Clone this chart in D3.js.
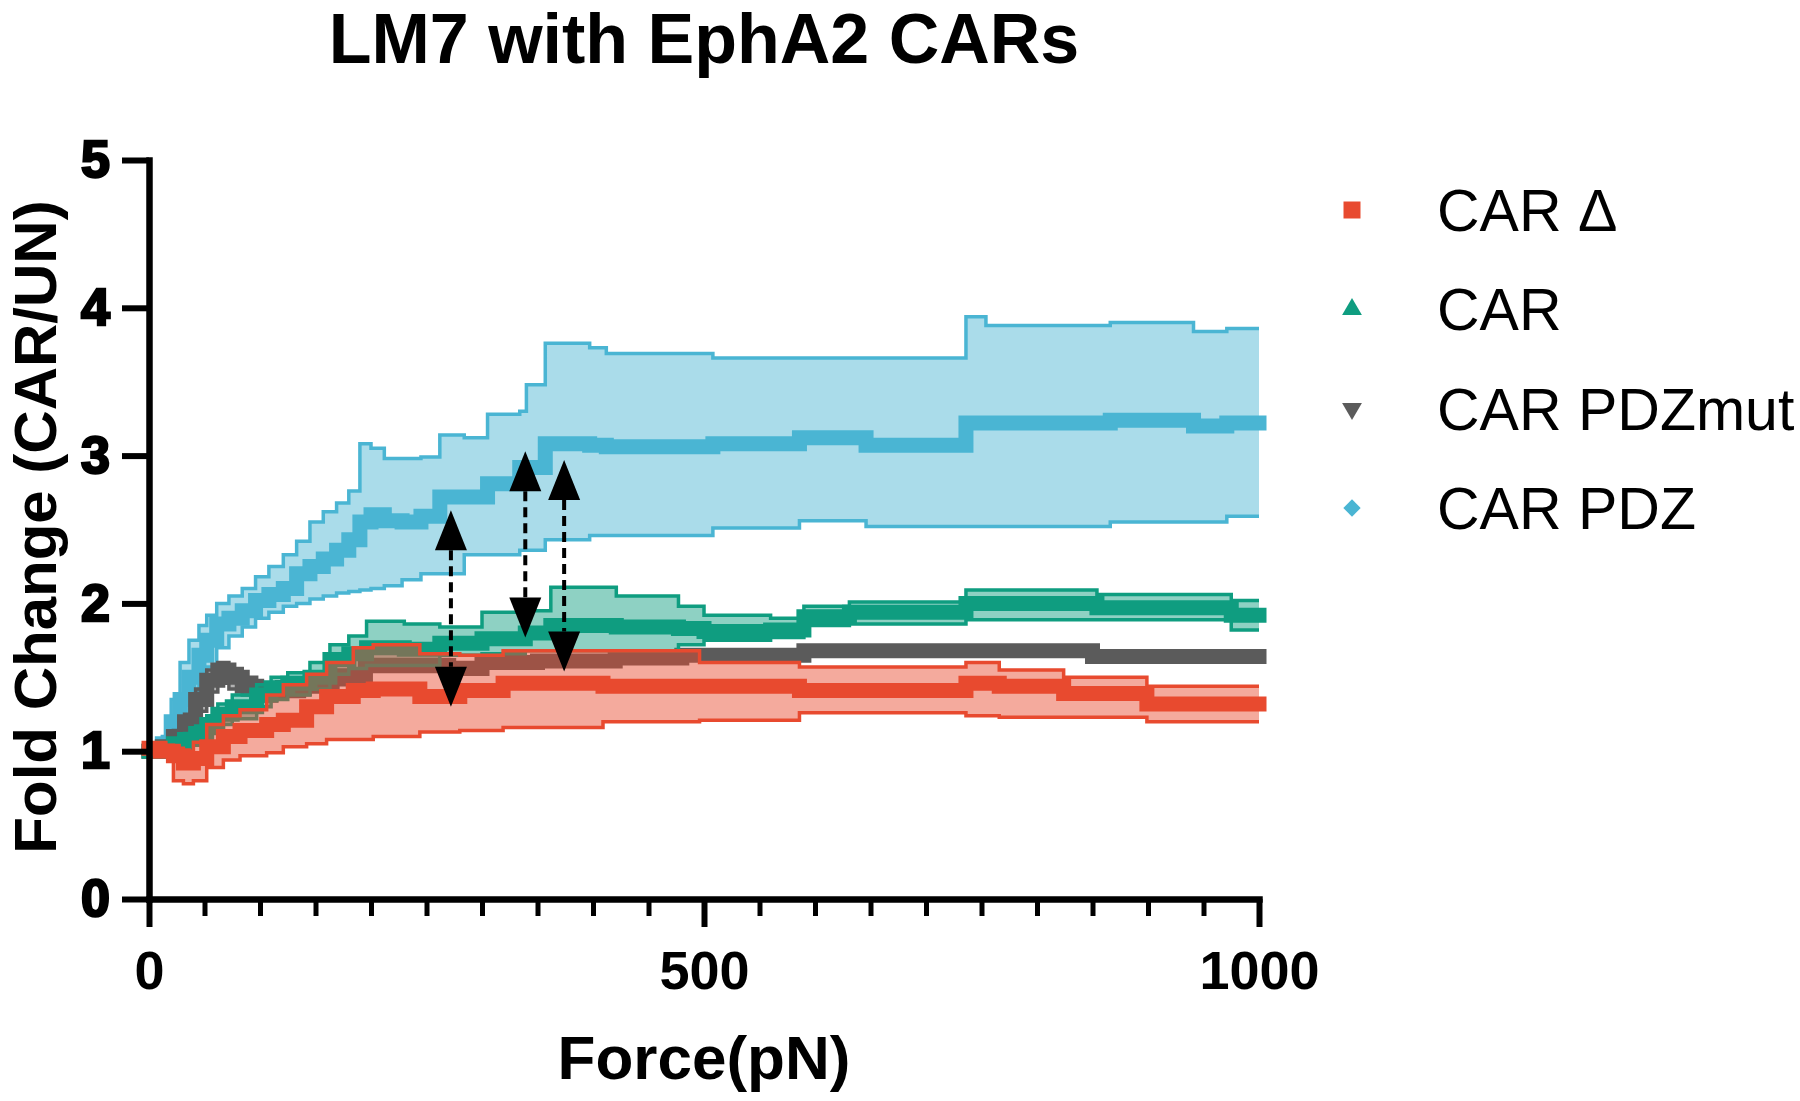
<!DOCTYPE html>
<html>
<head>
<meta charset="utf-8">
<script src="https://cdn.jsdelivr.net/npm/d3@7/dist/d3.min.js"></script>
<style>
  body { margin: 0; background: #fff; }
  text { font-family: "Liberation Sans", Arial, sans-serif; }
</style>
</head>
<body>
<svg id="chart" width="1800" height="1101"></svg>
<script>
// ---- data (force in pN, fold change CAR/UN) ----
const seriesNames = ['CAR Δ', 'CAR', 'CAR PDZmut', 'CAR PDZ'];

// CAR PDZ (blue)
const pdzForce = [0, 12, 20, 28, 36, 45, 52, 61, 72, 84, 96, 108, 121, 133, 145, 157, 169, 180, 190, 200,
  212, 228, 245, 262, 284, 305, 334, 340, 357, 397, 412, 508, 586, 646, 736, 754, 866, 941, 971, 1000];
const pdzMean = [1.0, 1.05, 1.2, 1.35, 1.5, 1.65, 1.75, 1.86, 1.9, 1.95, 2.02, 2.06, 2.1, 2.2, 2.25, 2.3, 2.36, 2.43, 2.55, 2.6,
  2.56, 2.55, 2.59, 2.72, 2.72, 2.81, 2.92, 2.92, 3.08, 3.07, 3.06, 3.08, 3.12, 3.07, 3.22, 3.22, 3.24, 3.2, 3.22, 3.22];
const pdzHigh = [1.0, 1.1, 1.35, 1.6, 1.75, 1.85, 1.92, 2.0, 2.05, 2.1, 2.18, 2.25, 2.33, 2.42, 2.55, 2.62, 2.68, 2.76, 3.08, 3.05,
  2.98, 2.98, 2.99, 3.14, 3.12, 3.28, 3.3, 3.48, 3.76, 3.73, 3.69, 3.66, 3.66, 3.66, 3.94, 3.88, 3.9, 3.84, 3.86, 3.86];
const pdzLow = [1.0, 0.98, 1.08, 1.2, 1.33, 1.48, 1.57, 1.7, 1.78, 1.84, 1.9, 1.94, 1.98, 2.0, 2.03, 2.05, 2.07, 2.08, 2.09, 2.1,
  2.12, 2.16, 2.2, 2.2, 2.33, 2.33, 2.36, 2.36, 2.43, 2.46, 2.46, 2.51, 2.56, 2.52, 2.52, 2.52, 2.55, 2.55, 2.59, 2.59];

// CAR (teal)
const carForce = [0, 12, 22, 32, 42, 52, 62, 75, 97, 110, 125, 145, 163, 180, 196, 230, 262, 300, 339, 362,
  421, 477, 500, 560, 590, 631, 736, 854, 975, 1000];
const carMean = [1.0, 1.02, 1.05, 1.08, 1.12, 1.18, 1.25, 1.3, 1.38, 1.43, 1.46, 1.5, 1.62, 1.66, 1.7, 1.69, 1.73, 1.76, 1.8, 1.85,
  1.84, 1.83, 1.81, 1.82, 1.91, 1.94, 2.0, 1.97, 1.92, 1.92];
const carHigh = [1.0, 1.04, 1.08, 1.12, 1.17, 1.24, 1.32, 1.38, 1.45, 1.5, 1.53, 1.6, 1.72, 1.78, 1.88, 1.86, 1.84, 1.94, 1.95, 2.11,
  2.05, 1.98, 1.92, 1.9, 1.98, 2.01, 2.09, 2.06, 2.02, 2.02];
const carLow = [1.0, 1.0, 1.02, 1.04, 1.07, 1.12, 1.18, 1.22, 1.3, 1.35, 1.38, 1.42, 1.52, 1.56, 1.58, 1.58, 1.65, 1.66, 1.68, 1.68,
  1.68, 1.72, 1.75, 1.77, 1.85, 1.86, 1.89, 1.89, 1.82, 1.82];

// CAR PDZmut (grey)
const mutForce = [0, 12, 22, 32, 42, 52, 62, 72, 84, 97, 115, 140, 165, 195, 230, 270, 300, 350, 420, 480, 590, 850, 1000];
const mutMean = [1.0, 1.03, 1.1, 1.2, 1.35, 1.48, 1.55, 1.5, 1.44, 1.39, 1.42, 1.45, 1.5, 1.58, 1.58, 1.56, 1.6, 1.61, 1.63, 1.65, 1.68, 1.64, 1.64];
const mutHigh = [1.0, 1.05, 1.14, 1.25, 1.42, 1.55, 1.6, 1.56, 1.5, 1.45, 1.47, 1.5, 1.55, 1.62, 1.62, 1.6, 1.63, 1.63, 1.65, 1.66, 1.69, 1.65, 1.65];
const mutLow = [1.0, 1.0, 1.06, 1.14, 1.27, 1.4, 1.46, 1.42, 1.38, 1.34, 1.37, 1.4, 1.45, 1.54, 1.54, 1.52, 1.57, 1.59, 1.61, 1.64, 1.67, 1.63, 1.63];

// CAR Δ (red)
const delForce = [0, 10, 22, 31, 40, 52, 67, 82, 106, 121, 142, 160, 184, 202, 244, 280, 319, 409, 496, 586, 736, 766, 824, 899, 1000];
const delMean = [1.02, 1.0, 0.97, 0.92, 0.95, 1.03, 1.1, 1.14, 1.18, 1.21, 1.3, 1.37, 1.41, 1.42, 1.37, 1.41, 1.46, 1.44, 1.44, 1.41, 1.46, 1.44, 1.39, 1.32, 1.32];
const delHigh = [1.05, 1.04, 1.02, 1.0, 1.06, 1.18, 1.24, 1.28, 1.38, 1.45, 1.52, 1.6, 1.7, 1.72, 1.66, 1.65, 1.68, 1.68, 1.6, 1.57, 1.6, 1.55, 1.5, 1.44, 1.44];
const delLow = [1.0, 0.97, 0.8, 0.78, 0.8, 0.89, 0.94, 0.97, 0.99, 1.03, 1.05, 1.08, 1.08, 1.1, 1.13, 1.14, 1.16, 1.2, 1.21, 1.26, 1.24, 1.23, 1.23, 1.2, 1.2];

// dashed double arrows (annotation)
const arrowForce = [272, 339, 374];
const arrowTop = [2.63, 3.03, 2.97];
const arrowBottom = [1.3, 1.77, 1.54];

const xMajorTicks = [0, 500, 1000];
const yTicks = [0, 1, 2, 3, 4, 5];

// ---- setup ----
const svg = d3.select('#chart');
const x = d3.scaleLinear().domain([0, 1000]).range([149, 1259]);
const y = d3.scaleLinear().domain([0, 5]).range([899, 160]);

const rows = (f, m, lo, hi) => f.map((v, i) => ({f: v, mean: m[i], lo: lo[i], hi: hi[i]}));

// drawn back to front
const series = [
  {name: 'CAR PDZ', color: '#4AB5D3', data: rows(pdzForce, pdzMean, pdzLow, pdzHigh)},
  {name: 'CAR PDZmut', color: '#5B5B5B', data: rows(mutForce, mutMean, mutLow, mutHigh)},
  {name: 'CAR', color: '#0F9D80', data: rows(carForce, carMean, carLow, carHigh)},
  {name: 'CAR Δ', color: '#E84A2F', data: rows(delForce, delMean, delLow, delHigh)}
];

const band = d3.area().curve(d3.curveStepAfter)
  .x(d => x(d.f)).y0(d => y(d.lo)).y1(d => y(d.hi));
const lineOf = key => d3.line().curve(d3.curveStepAfter)
  .x(d => x(d.f)).y(d => y(d[key]));

const plot = svg.append('g');

series.forEach(s => {
  const g = plot.append('g');
  g.append('path').attr('d', band(s.data))
    .attr('fill', s.color).attr('fill-opacity', 0.47);
  ['lo', 'hi'].forEach(k => {
    g.append('path').attr('d', lineOf(k)(s.data))
      .attr('fill', 'none').attr('stroke', s.color).attr('stroke-width', 3.5);
  });
  g.append('path').attr('d', lineOf('mean')(s.data))
    .attr('fill', 'none').attr('stroke', s.color)
    .attr('stroke-width', 15).attr('stroke-linecap', 'square');
});

// arrows
const headW = 32, headH = 40;
const arrows = d3.zip(arrowForce, arrowTop, arrowBottom);
const ag = plot.append('g');
arrows.forEach(([f, t, b]) => {
  const cx = x(f), ty = y(t), by = y(b);
  ag.append('line')
    .attr('x1', cx).attr('x2', cx)
    .attr('y1', ty + headH).attr('y2', by - headH)
    .attr('stroke', '#000').attr('stroke-width', 4)
    .attr('stroke-dasharray', '10,6');
  ag.append('path')
    .attr('d', `M${cx},${ty} L${cx - headW / 2},${ty + headH} L${cx + headW / 2},${ty + headH} Z`)
    .attr('fill', '#000');
  ag.append('path')
    .attr('d', `M${cx},${by} L${cx - headW / 2},${by - headH} L${cx + headW / 2},${by - headH} Z`)
    .attr('fill', '#000');
});

// ---- axes ----
const xMinor = svg.append('g').attr('transform', `translate(0,${y(0)})`)
  .call(d3.axisBottom(x).tickValues(d3.range(0, 1001, 50)).tickSize(17).tickFormat(''));
xMinor.select('.domain').remove();
xMinor.selectAll('.tick line').attr('stroke-width', 5);

const xAxis = svg.append('g').attr('transform', `translate(0,${y(0)})`)
  .call(d3.axisBottom(x).tickValues(xMajorTicks).tickFormat(d3.format('d'))
    .tickSize(28).tickSizeOuter(0).tickPadding(24));
xAxis.select('.domain').attr('stroke-width', 6.5).attr('stroke-linecap', 'square');
xAxis.selectAll('.tick line').attr('stroke-width', 6);
xAxis.selectAll('.tick text')
  .attr('font-size', 54).attr('font-weight', 'bold').attr('fill', '#000')
  .style('font-family', '"Liberation Sans", Arial, sans-serif');

const yAxis = svg.append('g').attr('transform', `translate(${x(0)},0)`)
  .call(d3.axisLeft(y).tickValues(yTicks).tickFormat(d3.format('d'))
    .tickSize(27).tickSizeOuter(0).tickPadding(12));
yAxis.select('.domain').attr('stroke-width', 6.5).attr('stroke-linecap', 'square');
yAxis.selectAll('.tick line').attr('stroke-width', 6);
yAxis.selectAll('.tick text')
  .attr('font-size', 52).attr('font-weight', 'bold').attr('fill', '#000')
  .attr('stroke', '#000').attr('stroke-width', 2.5)
  .style('font-family', '"Liberation Sans", Arial, sans-serif');

// ---- titles ----
svg.append('text').attr('x', 704).attr('y', 63)
  .attr('text-anchor', 'middle').attr('font-size', 70).attr('font-weight', 'bold')
  .text('LM7 with EphA2 CARs');

svg.append('text').attr('x', 704).attr('y', 1079)
  .attr('text-anchor', 'middle').attr('font-size', 62).attr('font-weight', 'bold')
  .text('Force(pN)');

svg.append('text').attr('transform', 'translate(56,527) rotate(-90)')
  .attr('text-anchor', 'middle').attr('font-size', 60).attr('font-weight', 'bold')
  .text('Fold Change (CAR/UN)');

// ---- legend ----
const legendItems = [
  {name: seriesNames[0], color: '#E84A2F', sym: d3.symbolSquare, size: 289, rot: 0},
  {name: seriesNames[1], color: '#0F9D80', sym: d3.symbolTriangle, size: 170, rot: 0},
  {name: seriesNames[2], color: '#5B5B5B', sym: d3.symbolTriangle, size: 170, rot: 180},
  {name: seriesNames[3], color: '#4AB5D3', sym: d3.symbolSquare, size: 150, rot: 45}
];
const legendY = d3.scalePoint().domain(legendItems.map(d => d.name)).range([210, 508]);

const leg = svg.append('g').selectAll('g').data(legendItems).join('g')
  .attr('transform', d => `translate(0,${legendY(d.name)})`);
leg.append('path')
  .attr('d', d => d3.symbol(d.sym, d.size)())
  .attr('transform', d => `translate(1352,0) rotate(${d.rot})`)
  .attr('fill', d => d.color);
leg.append('text').attr('x', 1437).attr('y', 21)
  .attr('font-size', 59).attr('fill', '#000')
  .text(d => d.name);
</script>
</body>
</html>
